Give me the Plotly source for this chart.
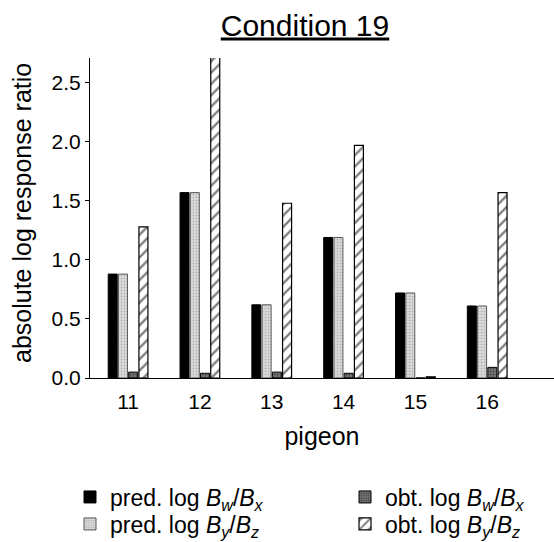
import plotly.graph_objects as go

pigeons = ["11", "12", "13", "14", "15", "16"]
pred_bw_bx = [0.88, 1.57, 0.62, 1.19, 0.72, 0.61]
pred_by_bz = [0.88, 1.57, 0.62, 1.19, 0.72, 0.61]
obt_bw_bx = [0.05, 0.04, 0.05, 0.04, 0.0, 0.09]
obt_by_bz = [1.28, 2.80, 1.48, 1.97, 0.01, 1.57]

names = [
    "pred. log <i>B<sub>w</sub></i>/<i>B<sub>x</sub></i>",
    "pred. log <i>B<sub>y</sub></i>/<i>B<sub>z</sub></i>",
    "obt. log <i>B<sub>w</sub></i>/<i>B<sub>x</sub></i>",
    "obt. log <i>B<sub>y</sub></i>/<i>B<sub>z</sub></i>",
]
y_title = "absolute log response ratio"

FONT = "Liberation Sans, Arial, Helvetica, sans-serif"

fig = go.Figure()
fig.add_trace(go.Bar(x=pigeons, y=pred_bw_bx, name=names[0], legend="legend",
                     marker=dict(color="black", line=dict(color="black", width=1))))
fig.add_trace(go.Bar(x=pigeons, y=pred_by_bz, name=names[1], legend="legend3",
                     marker=dict(color="#d4d4d4", line=dict(color="#555555", width=1),
                                 pattern=dict(shape=".", fgcolor="#8a8a8a", bgcolor="#dcdcdc",
                                              size=3, solidity=0.3))))
fig.add_trace(go.Bar(x=pigeons, y=obt_bw_bx, name=names[2], legend="legend2",
                     marker=dict(color="#444444", line=dict(color="black", width=1),
                                 pattern=dict(shape=".", fgcolor="#111111", bgcolor="#777777",
                                              size=3, solidity=0.4))))
fig.add_trace(go.Bar(x=pigeons, y=obt_by_bz, name=names[3], legend="legend4",
                     marker=dict(color="white", line=dict(color="black", width=1.2),
                                 pattern=dict(shape="/", fgcolor="black", bgcolor="white",
                                              size=8, solidity=0.3))))

legend_common = dict(orientation="v", xref="container", yref="container",
                     xanchor="left", yanchor="middle", traceorder="normal",
                     font=dict(size=23, family=FONT), tracegroupgap=0,
                     bgcolor="rgba(0,0,0,0)", borderwidth=0)

row1, row2 = 1 - 497 / 542, 1 - 524 / 542
col1, col2 = 70 / 554, 345 / 554

fig.update_layout(
    width=554, height=542,
    margin=dict(l=90, r=0, t=58, b=164, autoexpand=False),
    paper_bgcolor="white", plot_bgcolor="white",
    font=dict(family=FONT, size=20, color="black"),
    barmode="group", bargap=0.43, bargroupgap=0.12,
    title=dict(text="<u>Condition 19</u>", x=305 / 554, xanchor="center",
               xref="container", yref="container",
               y=1 - 25 / 542, yanchor="middle", font=dict(size=30, family=FONT)),
    showlegend=True,
    legend=dict(x=col1, y=row1, **legend_common),
    legend2=dict(x=col2, y=row1, **legend_common),
    legend3=dict(x=col1, y=row2, **legend_common),
    legend4=dict(x=col2, y=row2, **legend_common),
    annotations=[dict(text=y_title, textangle=-90, xref="paper", yref="paper",
                      x=(22 - 90) / 464, y=(378 - 213) / 320, xanchor="center",
                      yanchor="middle", showarrow=False,
                      font=dict(size=25, family=FONT, color="black"))],
)
fig.update_xaxes(
    range=[-0.53, 5.93], showline=True, linecolor="black", linewidth=1,
    ticks="", showgrid=False, zeroline=False, ticklabelstandoff=5,
    tickfont=dict(size=21), title=dict(text="pigeon", font=dict(size=25)),
)
fig.update_yaxes(
    range=[0, 2.71], showline=True, linecolor="black", linewidth=1,
    ticks="outside", ticklen=4, tickcolor="black",
    tickvals=[0, 0.5, 1.0, 1.5, 2.0, 2.5], ticktext=["0.0", "0.5", "1.0", "1.5", "2.0", "2.5"],
    showgrid=False, zeroline=False, tickfont=dict(size=21),
)

fig.write_html("out.html")
